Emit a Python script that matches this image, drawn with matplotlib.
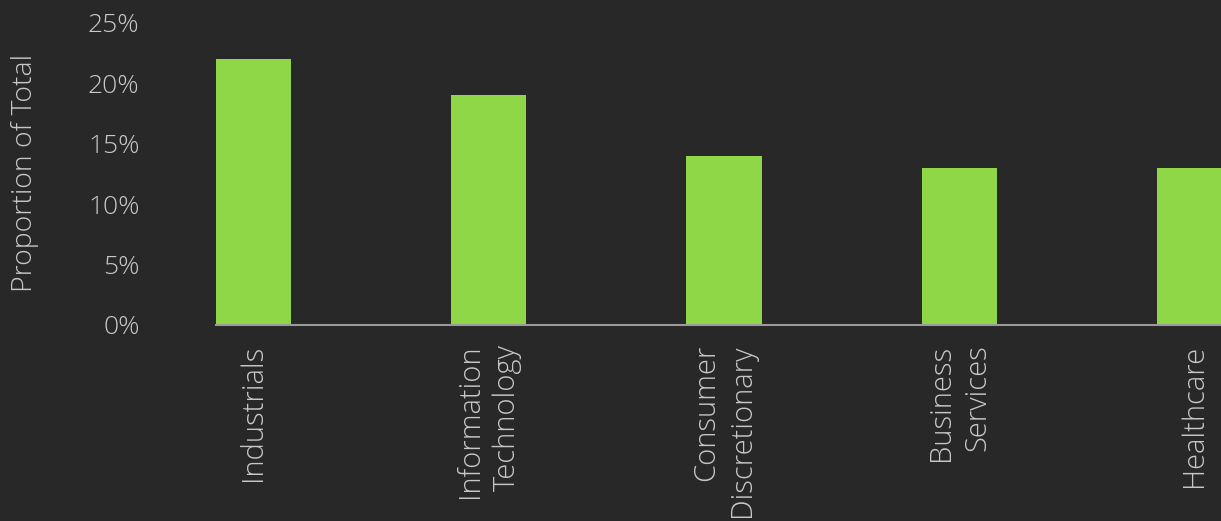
import matplotlib
matplotlib.use('Agg')
import matplotlib.pyplot as plt
from matplotlib.ticker import PercentFormatter

sectors = ['Industrials', 'Information\nTechnology', 'Consumer\nDiscretionary',
           'Business\nServices', 'Healthcare']
share = [22, 19, 14, 13, 13]   # % of total
yticks = [0, 5, 10, 15, 20, 25]

bg = '#282828'
green = '#8fd747'
txt = '#c8c8c8'

plt.rcParams['font.family'] = ['Open Sans', 'DejaVu Sans']
plt.rcParams['font.weight'] = 'light'

fig = plt.figure(figsize=(12.21, 5.21), dpi=100, facecolor=bg)
ax = fig.add_axes([216 / 1221, 1 - 325 / 521, 1 - 216 / 1221, (325 - 23) / 521])
ax.set_facecolor(bg)

w = 0.32
x = list(range(len(sectors)))
ax.bar(x, share, width=w, color=green, zorder=2)

ax.set_xlim(-w / 2, 4 + (1221 - 1194.5) / 235)
ax.set_ylim(0, 25)
ax.set_yticks(yticks)
ax.yaxis.set_major_formatter(PercentFormatter(decimals=0))
ax.set_xticks(x)
ax.set_xticklabels(sectors, rotation=90, ha='center', va='top', multialignment='right',
                   linespacing=1.3)

ax.tick_params(axis='y', length=0, pad=55, labelsize=19, labelcolor=txt)
ax.tick_params(axis='x', length=0, pad=14, labelsize=21, labelcolor=txt)

for s in ['top', 'right', 'left']:
    ax.spines[s].set_visible(False)
ax.spines['bottom'].set_color('#9a9a9a')
ax.spines['bottom'].set_linewidth(1.5)

fig.text(25 / 1221, 1 - 173 / 521, 'Proportion of Total', rotation=90, color=txt,
         fontsize=20.5, ha='center', va='center')

fig.savefig('out.png', dpi=100, facecolor=bg)
